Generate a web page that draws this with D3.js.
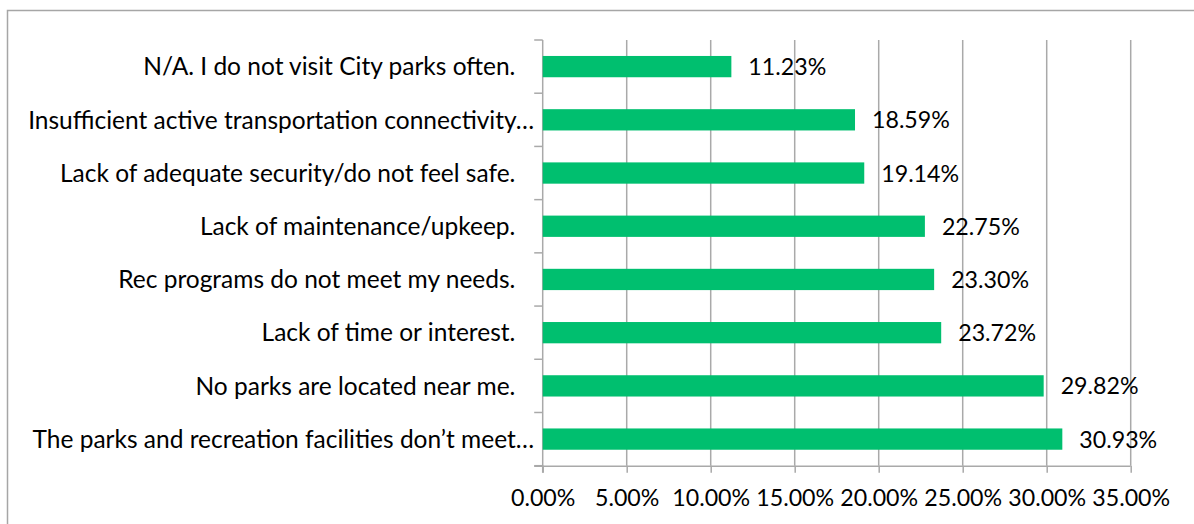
<!DOCTYPE html>
<html>
<head>
<meta charset="utf-8">
<script src="https://cdn.jsdelivr.net/npm/d3@7"></script>
<style>
  html, body { margin: 0; padding: 0; background: #fff; }
  svg { display: block; }
  text { font-family: Lato, "Open Sans", sans-serif; fill: #000; white-space: pre; }
</style>
</head>
<body>
<svg id="chart" width="1194" height="524"></svg>
<script>
const categories = [
  "N/A. I do not visit City parks often.   ",
  "Insufficient active transportation connectivity…",
  "Lack of adequate security/do not feel safe.   ",
  "Lack of maintenance/upkeep.   ",
  "Rec programs do not meet my needs.   ",
  "Lack of time or interest.   ",
  "No parks are located near me.   ",
  "The parks and recreation facilities don’t meet…"
];
const values = [11.23, 18.59, 19.14, 22.75, 23.30, 23.72, 29.82, 30.93];
const tickValues = [0, 5, 10, 15, 20, 25, 30, 35];
const tickLabels = ["0.00%", "5.00%", "10.00%", "15.00%", "20.00%", "25.00%", "30.00%", "35.00%"];

const svg = d3.select("#chart");
const plot = { left: 542.7, right: 1130.7, top: 40, bottom: 465.7 };
const labelFont = 24.5;
const numFont = 23.2;
const gridColor = "#a9a9a9";

// chart border
svg.append("rect")
  .attr("x", 7.5).attr("y", 10.5)
  .attr("width", 1300).attr("height", 700)
  .attr("fill", "#fff").attr("stroke", "#a6a6a6").attr("stroke-width", 1.5);

const x = d3.scaleLinear().domain([0, 35]).range([plot.left, plot.right]);
const y = d3.scaleBand().domain(categories).range([plot.top, plot.bottom])
  .paddingInner(0.6).paddingOuter(0.3);

// vertical gridlines
svg.append("g").selectAll("line").data(tickValues.filter(d => d > 0)).join("line")
  .attr("x1", d => x(d)).attr("x2", d => x(d))
  .attr("y1", plot.top).attr("y2", plot.bottom)
  .attr("stroke", gridColor).attr("stroke-width", 1.5);

// bottom axis
const xAxis = d3.axisBottom(x).tickValues(tickValues)
  .tickFormat((d, i) => tickLabels[i]).tickSize(7).tickSizeOuter(0).tickPadding(17);
const gx = svg.append("g").attr("transform", `translate(0,${plot.bottom})`).call(xAxis);
gx.select(".domain").attr("stroke", gridColor).attr("stroke-width", 1.5)
  .attr("d", `M${plot.left - 8.5},0.5H${plot.right}`);
gx.selectAll(".tick line").attr("stroke", gridColor).attr("stroke-width", 1.5);
gx.selectAll(".tick text").attr("font-size", numFont).attr("fill", "#000")
  .attr("font-family", "Lato, 'Open Sans', sans-serif");

// left category axis line + ticks at band boundaries
const boundaries = d3.range(categories.length + 1).map(i => plot.top + (plot.bottom - plot.top) * i / categories.length);
svg.append("line")
  .attr("x1", plot.left).attr("x2", plot.left)
  .attr("y1", plot.top).attr("y2", plot.bottom + 7)
  .attr("stroke", gridColor).attr("stroke-width", 1.5);
svg.append("g").selectAll("line").data(boundaries).join("line")
  .attr("x1", plot.left - 8.5).attr("x2", plot.left)
  .attr("y1", d => d).attr("y2", d => d)
  .attr("stroke", gridColor).attr("stroke-width", 1.5);

// category labels
svg.append("g").selectAll("text").data(categories).join("text")
  .attr("x", plot.left - 8.5)
  .attr("y", d => y(d) + y.bandwidth() / 2)
  .attr("dy", "0.36em")
  .attr("text-anchor", "end")
  .attr("font-size", labelFont)
  .text(d => d);

// bars
svg.append("g").selectAll("rect").data(values).join("rect")
  .attr("x", x(0))
  .attr("y", (d, i) => y(categories[i]))
  .attr("width", d => x(d) - x(0))
  .attr("height", y.bandwidth())
  .attr("fill", "#00bf6f");

// value labels
svg.append("g").selectAll("text").data(values).join("text")
  .attr("x", d => x(d) + 17)
  .attr("y", (d, i) => y(categories[i]) + y.bandwidth() / 2)
  .attr("dy", "0.37em")
  .attr("font-size", numFont)
  .text(d => d.toFixed(2) + "%");
</script>
</body>
</html>
